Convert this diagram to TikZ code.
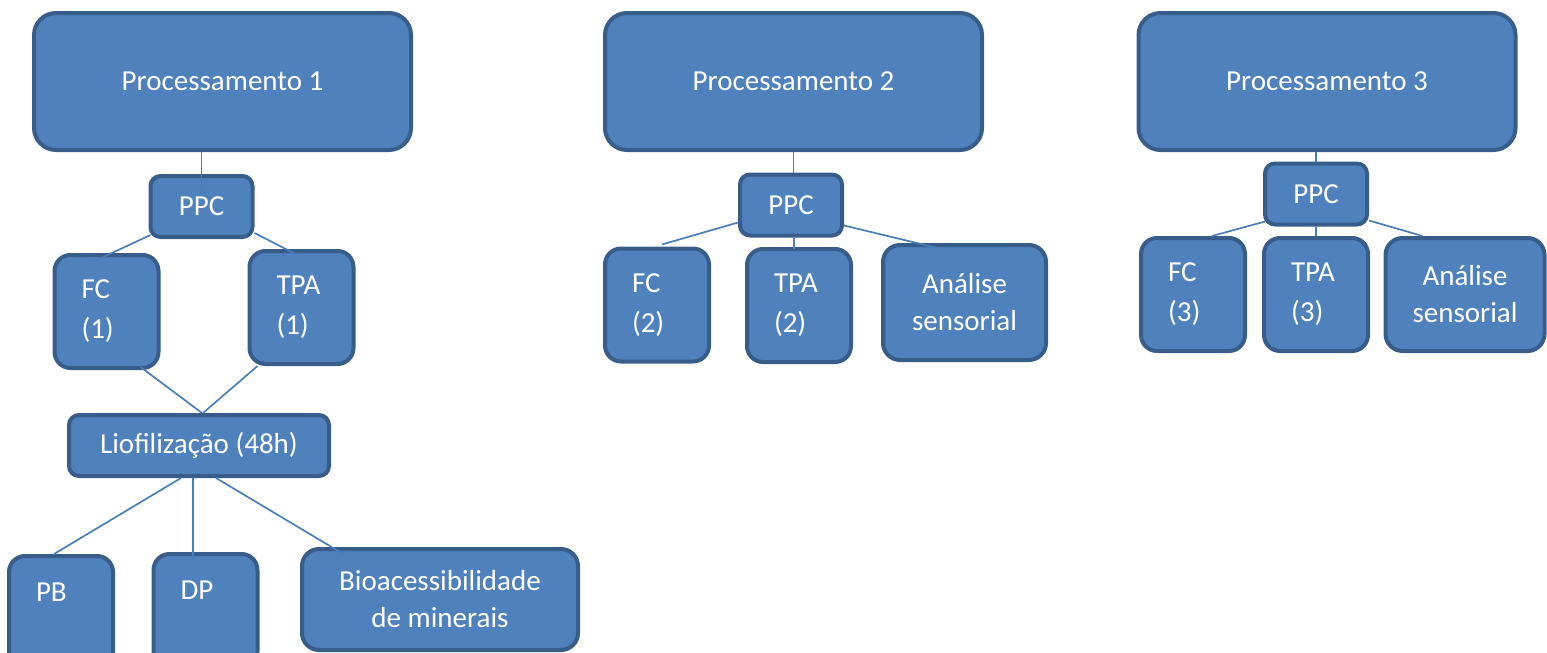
\documentclass[tikz,border=0pt]{standalone}
\usepackage{fontspec}
\setmainfont{Carlito}
\usepackage{tikz}
\definecolor{boxFill}{RGB}{79,129,189}
\definecolor{boxBorder}{RGB}{56,93,138}
\definecolor{linkBlue}{RGB}{74,126,187}

\begin{document}
\begin{tikzpicture}[x=1pt, y=-1pt,
  box/.style={draw=boxBorder, fill=boxFill, line width=4pt, rectangle, text=white, font=\fontsize{29}{40}\selectfont},
  procbox/.style={box, rounded corners=22pt, minimum width=377pt, minimum height=137pt},
  ppcbox/.style={box, rounded corners=10pt, minimum width=102pt, minimum height=61pt},
  leafbox/.style={box, rounded corners=16pt, align=left, text width=50pt, inner xsep=27pt, minimum height=113pt},
  sensbox/.style={box, rounded corners=17pt, align=center, font=\fontsize{29}{37}\selectfont},
  link/.style={draw=linkBlue, line width=1.7pt}]
  \useasboundingbox (0,0) rectangle (1547,653);

  \node[procbox] (procA) at (222.5,81.5) {Processamento 1};
  \node[procbox] (procB) at (793.5,81.5) {Processamento 2};
  \node[procbox] (procC) at (1327,81.5) {Processamento 3};

  \node[ppcbox] (ppcA) at (201.5,206.5) {PPC};
  \node[ppcbox] (ppcB) at (791,205) {PPC};
  \node[ppcbox] (ppcC) at (1316,194) {PPC};

  \node[leafbox] (fcA) at (106.5,311.5) {FC\\(1)};
  \node[leafbox] (tpaA) at (301.5,307.5) {TPA\\(1)};
  \node[ppcbox, minimum width=260pt] (lio) at (199,445.5) {Liofiliza\c{c}\~ao (48h)};
  \node[leafbox] (pb) at (61,612.5) {PB\\\mbox{}};
  \node[leafbox] (dp) at (205.5,610.5) {DP\\\mbox{}};
  \node[sensbox, minimum width=276pt, minimum height=101pt] (bio) at (440,599.5) {Bioacessibilidade\\de minerais};

  \node[leafbox] (fcB) at (657,305) {FC\\(2)};
  \node[leafbox] (tpaB) at (799,305.5) {TPA\\(2)};
  \node[sensbox, minimum width=163pt, minimum height=115pt] (sensB) at (964.5,302.5) {An\'alise\\sensorial};

  \node[leafbox] (fcC) at (1193,294.5) {FC\\(3)};
  \node[leafbox] (tpaC) at (1316,294.5) {TPA\\(3)};
  \node[sensbox, minimum width=159pt, minimum height=113pt] (sensC) at (1465,294.5) {An\'alise\\sensorial};

  \draw[link] (ppcA.north |- procA.south) -- ([yshift=-21pt]ppcA.north);
  \draw[link] ([xshift=2pt,yshift=4pt]ppcA.south west) -- ([xshift=-14pt,yshift=-9pt]fcA.north);
  \draw[link] ([yshift=6pt]ppcA.south east) -- ([xshift=-4pt,yshift=-6pt]tpaA.north);
  \draw[link] ([xshift=-20pt,yshift=3pt]fcA.south east) -- ([xshift=3pt]lio.north);
  \draw[link] ([xshift=10pt]tpaA.south west) -- ([xshift=4pt]lio.north);
  \draw[link] ([xshift=-18pt]lio.south) -- ([xshift=-7pt]pb.north);
  \draw[link] ([xshift=-6pt]lio.south) -- ([xshift=-12.5pt,yshift=-8pt]dp.north);
  \draw[link] ([xshift=17pt]lio.south) -- ([xshift=45pt,yshift=-8pt]bio.north west);

  \draw[link] (procB.south) -- (procB.south |- ppcB.north);
  \draw[link] ([yshift=15pt]ppcB.south west) -- ([xshift=5pt,yshift=2pt]fcB.north);
  \draw[link] ([xshift=3pt]ppcB.south) -- ([xshift=-5pt,yshift=-2pt]tpaB.north);
  \draw[link] ([yshift=12pt]ppcB.south east) -- ([xshift=-27pt,yshift=-5pt]sensB.north);

  \draw[link] (ppcC.north |- procC.south) -- (ppcC.north);
  \draw[link] ([xshift=2pt,yshift=5pt]ppcC.south west) -- ([xshift=19pt]fcC.north);
  \draw[link] (ppcC.south) -- (tpaC.north);
  \draw[link] ([yshift=6pt]ppcC.south east) -- ([xshift=39pt]sensC.north west);
\end{tikzpicture}
\end{document}
